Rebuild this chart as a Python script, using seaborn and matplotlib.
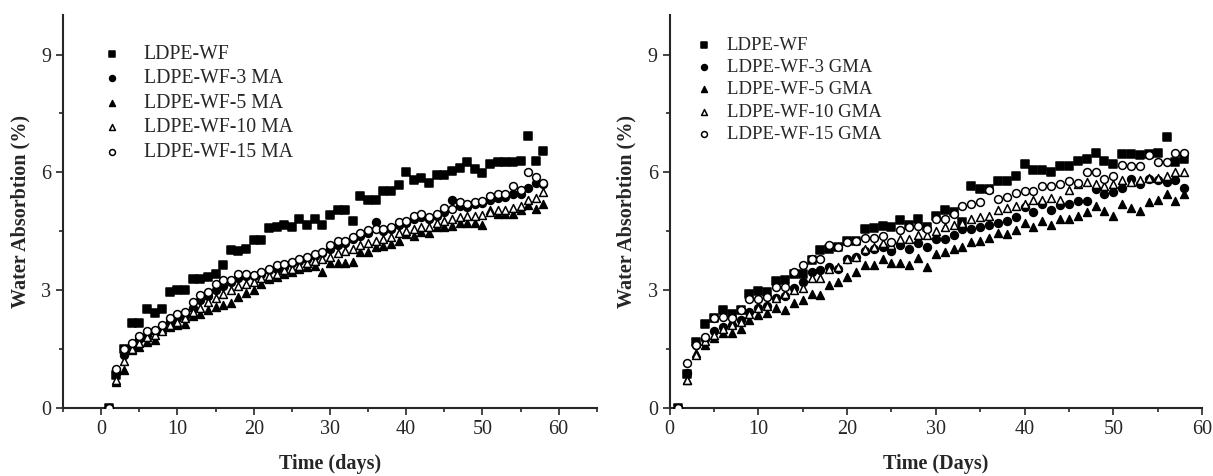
import numpy as np
import matplotlib
matplotlib.use("Agg")
import matplotlib.pyplot as plt
from matplotlib.ticker import MultipleLocator
import seaborn as sns

days = list(range(1, 59))

# left panel: MA series
wf_left = [0.0, 0.85, 1.5, 2.17, 2.17, 2.53, 2.42, 2.53, 2.95, 3.0,
           3.01, 3.29, 3.29, 3.33, 3.42, 3.65, 4.03, 3.99, 4.05, 4.28,
           4.28, 4.59, 4.62, 4.65, 4.6, 4.81, 4.67, 4.81, 4.67, 4.92,
           5.05, 5.03, 4.77, 5.39, 5.3, 5.3, 5.52, 5.53, 5.68, 6.0,
           5.8, 5.86, 5.74, 5.94, 5.94, 6.04, 6.12, 6.27, 6.08, 5.98,
           6.21, 6.25, 6.25, 6.25, 6.29, 6.93, 6.29, 6.55]
ma3 = [0.0, 0.9, 1.35, 1.55, 1.75, 1.85, 1.95, 2.05, 2.2, 2.3,
       2.35, 2.55, 2.75, 2.85, 3.0, 3.1, 3.2, 3.3, 3.35, 3.35,
       3.42, 3.5, 3.55, 3.6, 3.68, 3.75, 3.8, 3.88, 3.95, 4.05,
       4.15, 4.2, 4.3, 4.38, 4.45, 4.73, 4.5, 4.55, 4.65, 4.7,
       4.8, 4.85, 4.8, 4.88, 5.0, 5.3, 5.15, 5.12, 5.2, 5.22,
       5.3, 5.35, 5.38, 5.45, 5.45, 5.6, 5.72, 5.7]
ma5 = [0.0, 0.67, 0.96, 1.47, 1.56, 1.69, 1.73, 2.0, 2.06, 2.1,
       2.15, 2.33, 2.4, 2.5, 2.57, 2.62, 2.66, 2.83, 2.92, 3.0,
       3.16, 3.29, 3.33, 3.42, 3.46, 3.55, 3.59, 3.61, 3.46, 3.7,
       3.7, 3.7, 3.71, 3.98, 3.97, 4.1, 4.12, 4.18, 4.25, 4.43,
       4.39, 4.48, 4.45, 4.6, 4.6, 4.64, 4.7, 4.7, 4.7, 4.67,
       5.03, 4.95, 4.95, 4.94, 5.03, 5.17, 5.07, 5.2]
ma10 = [0.0, 0.7, 1.2, 1.5, 1.65, 1.8, 1.85, 1.95, 2.1, 2.2,
        2.3, 2.45, 2.55, 2.7, 2.8, 2.9, 3.0, 3.1, 3.15, 3.2,
        3.3, 3.35, 3.42, 3.5, 3.55, 3.62, 3.7, 3.75, 3.78, 3.85,
        3.95, 4.0, 4.05, 4.15, 4.2, 4.25, 4.3, 4.35, 4.45, 4.5,
        4.55, 4.6, 4.62, 4.7, 4.75, 4.8, 4.85, 4.88, 4.9, 4.92,
        5.0, 5.05, 5.05, 5.1, 5.15, 5.3, 5.35, 5.5]
ma15 = [0.0, 0.99, 1.51, 1.65, 1.82, 1.95, 1.99, 2.11, 2.28, 2.4,
        2.44, 2.7, 2.87, 2.95, 3.15, 3.25, 3.25, 3.4, 3.42, 3.38,
        3.46, 3.55, 3.63, 3.67, 3.71, 3.8, 3.84, 3.93, 3.97, 4.14,
        4.26, 4.26, 4.35, 4.45, 4.52, 4.55, 4.56, 4.6, 4.73, 4.77,
        4.9, 4.93, 4.85, 4.93, 5.1, 5.07, 5.25, 5.2, 5.25, 5.28,
        5.4, 5.45, 5.45, 5.66, 5.55, 6.02, 5.87, 5.74]

# right panel: GMA series
wf_right = [0.0, 0.86, 1.68, 2.15, 2.28, 2.5, 2.4, 2.49, 2.91, 2.98,
            2.95, 3.23, 3.25, 3.42, 3.4, 3.76, 4.01, 4.05, 4.09, 4.26,
            4.25, 4.56, 4.59, 4.64, 4.6, 4.78, 4.65, 4.82, 4.62, 4.9,
            5.04, 5.0, 4.74, 5.65, 5.58, 5.58, 5.77, 5.79, 5.91, 6.22,
            6.05, 6.05, 6.0, 6.17, 6.17, 6.28, 6.33, 6.5, 6.3, 6.22,
            6.46, 6.46, 6.45, 6.46, 6.5, 6.9, 6.27, 6.35]
gma3 = [0.0, 0.9, 1.6, 1.75, 1.95, 2.05, 2.1, 2.25, 2.45, 2.55,
        2.6, 2.8, 2.85, 3.05, 3.2, 3.45, 3.5, 3.6, 3.55, 3.8,
        3.85, 4.0, 4.05, 4.1, 4.0, 4.15, 4.05, 4.2, 4.1, 4.3,
        4.3, 4.4, 4.56, 4.55, 4.6, 4.65, 4.7, 4.75, 4.85, 5.11,
        5.0, 5.2, 5.05, 5.18, 5.2, 5.28, 5.28, 5.58, 5.45, 5.5,
        5.6, 5.83, 5.7, 5.83, 5.8, 5.75, 5.8, 5.6]
gma5 = [0.0, 0.71, 1.39, 1.6, 1.77, 1.91, 1.91, 2.02, 2.23, 2.36,
        2.42, 2.55, 2.5, 2.67, 2.74, 2.91, 2.87, 3.12, 3.21, 3.33,
        3.46, 3.63, 3.63, 3.8, 3.69, 3.68, 3.63, 3.82, 3.59, 3.91,
        3.97, 4.05, 4.09, 4.22, 4.26, 4.33, 4.45, 4.43, 4.52, 4.7,
        4.6, 4.75, 4.67, 4.81, 4.8, 4.9, 4.98, 5.15, 5.01, 4.9,
        5.19, 5.09, 5.01, 5.24, 5.3, 5.45, 5.28, 5.45]
gma10 = [0.0, 0.71, 1.35, 1.7, 1.85, 2.0, 2.1, 2.2, 2.4, 2.55,
         2.6, 2.8, 2.9, 3.0, 3.05, 3.3, 3.3, 3.55, 3.6, 3.8,
         3.85, 4.05, 4.1, 4.2, 4.15, 4.3, 4.3, 4.4, 4.4, 4.5,
         4.6, 4.65, 4.7, 4.8, 4.85, 4.9, 5.05, 5.1, 5.15, 5.2,
         5.3, 5.3, 5.35, 5.3, 5.55, 5.7, 5.75, 5.7, 5.65, 5.7,
         5.8, 5.75, 5.8, 5.85, 5.85, 5.9, 6.0, 6.0]
gma15 = [0.0, 1.15, 1.6, 1.81, 2.28, 2.32, 2.28, 2.5, 2.78, 2.78,
         2.83, 3.08, 3.08, 3.46, 3.63, 3.8, 3.8, 4.16, 4.09, 4.22,
         4.26, 4.33, 4.33, 4.39, 4.22, 4.53, 4.62, 4.64, 4.56, 4.81,
         4.81, 4.94, 5.13, 5.19, 5.24, 5.55, 5.32, 5.36, 5.47, 5.53,
         5.52, 5.66, 5.66, 5.7, 5.79, 5.74, 6.0, 6.0, 5.83, 5.91,
         6.18, 6.17, 6.17, 6.45, 6.25, 6.27, 6.48, 6.48]

left_labels = ["LDPE-WF", "LDPE-WF-3 MA", "LDPE-WF-5 MA", "LDPE-WF-10 MA", "LDPE-WF-15 MA"]
right_labels = ["LDPE-WF", "LDPE-WF-3 GMA", "LDPE-WF-5 GMA", "LDPE-WF-10 GMA", "LDPE-WF-15 GMA"]

# marker, face colour for each of the five series
styles = [("s", "black"), ("o", "black"), ("^", "black"), ("^", "white"), ("o", "white")]

sns.set_style("ticks")
plt.rcParams["font.family"] = ["Liberation Serif", "DejaVu Serif"]
plt.rcParams["font.size"] = 14

fig = plt.figure(figsize=(12.13, 4.76), dpi=100)
ax1 = fig.add_axes([0.052, 0.143, 0.440, 0.825])
ax2 = fig.add_axes([0.552, 0.143, 0.439, 0.825])


def draw(ax, series, labels, xlabel, xlim, legend_anchor, legend_size, textpad):
  for ys, lab, (mk, fc) in zip(series, labels, styles):
    sns.scatterplot(x=days, y=ys, ax=ax, marker=mk, s=32, facecolor=fc,
                    edgecolor="black", linewidth=1.1, label=lab, zorder=3)
  ax.set_xlim(*xlim)
  ax.set_ylim(0, 10)
  ax.xaxis.set_major_locator(MultipleLocator(10))
  ax.xaxis.set_minor_locator(MultipleLocator(5))
  ax.yaxis.set_major_locator(MultipleLocator(3))
  ax.yaxis.set_minor_locator(MultipleLocator(1.5))
  ax.tick_params(which="major", length=5, width=1.2, labelsize=14.5, direction="out")
  ax.tick_params(which="minor", length=3, width=1.2, direction="out")
  for sp in ["left", "bottom"]:
    ax.spines[sp].set_linewidth(1.5)
  sns.despine(ax=ax)
  ax.set_xlabel(xlabel, fontsize=14.5, fontweight="bold", labelpad=11)
  ax.set_ylabel("Water Absorbtion (%)", fontsize=14.5, fontweight="bold", labelpad=8)
  ax.legend(loc="upper left", bbox_to_anchor=legend_anchor, frameon=False,
            fontsize=legend_size, markerscale=0.75, handletextpad=textpad,
            labelspacing=0.28, handlelength=1.2, borderaxespad=0)


draw(ax1, [wf_left, ma3, ma5, ma10, ma15], left_labels, "Time (days)", (-5, 65),
     (0.055, 0.945), 14.2, 1.0)
draw(ax2, [wf_right, gma3, gma5, gma10, gma15], right_labels, "Time (Days)", (0, 60),
     (0.03, 0.965), 13.5, 0.6)

fig.savefig("out.png", dpi=100)
